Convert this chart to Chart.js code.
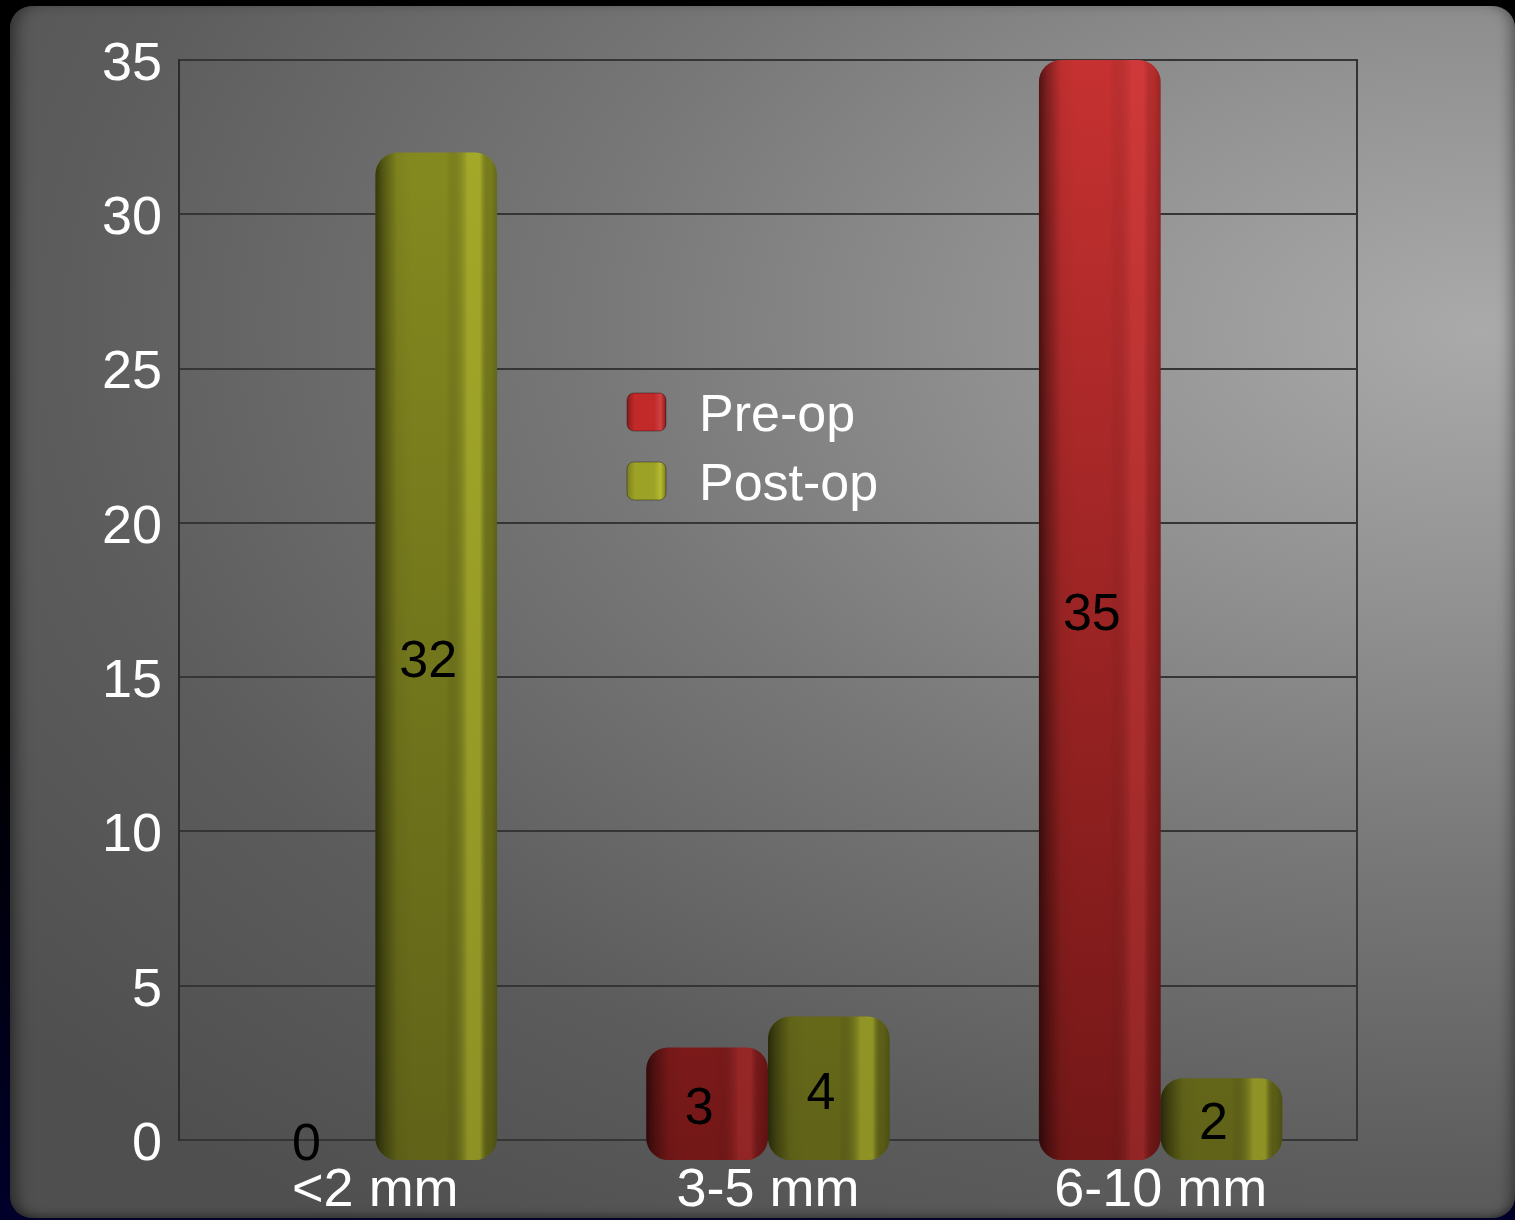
<!DOCTYPE html>
<html>
<head>
<meta charset="utf-8">
<title>Pre-op / Post-op</title>
<script src="https://cdn.jsdelivr.net/npm/chart.js@4.4.1/dist/chart.umd.min.js"></script>
<style>
  html, body { margin: 0; padding: 0; width: 1515px; height: 1220px; overflow: hidden;
    background: linear-gradient(180deg, #000 0%, #000 60%, #00002a 100%); }
  #panel { position: absolute; left: 10px; top: 6px; width: 1505px; height: 1212px; border-radius: 22px;
    background: radial-gradient(ellipse 1500px 900px at 1470px 324px,
      #aaaaaa 0%, #929292 30%, #777777 60%, #5c5c5c 95%, #4f4f4f 125%);
    box-shadow: inset 14px 0 16px -8px rgba(0,0,0,0.45),
                inset -12px 0 14px -8px rgba(0,0,0,0.4),
                inset 0 -8px 10px -6px rgba(0,0,0,0.3); }
  #chart { position: absolute; left: 0; top: 0; }
</style>
</head>
<body>
<div id="panel"></div>
<canvas id="chart" width="1515" height="1220"></canvas>
<script>
// ---- data ----
const categories = ['<2 mm', '3-5 mm', '6-10 mm'];
const seriesNames = ['Pre-op', 'Post-op'];
const preOp = [0, 3, 35];
const postOp = [32, 4, 2];
const yTickValues = [0, 5, 10, 15, 20, 25, 30, 35];

// ---- styles ----
const FONT = '"Liberation Sans", Arial, sans-serif';
const palette = [
  { top: '#c63131', bottom: '#731717', shine: 'rgba(235,80,80,0.25)', legend: ['#c22a2a', '#8c1a1a', '#d04040'] },
  { top: '#888d20', bottom: '#606318', shine: 'rgba(205,210,55,0.42)', legend: ['#9ca226', '#7c801d', '#b6bb30'] }
];
const BAR_RADIUS = 22;

function verticalFill(di) {
  return (ctx) => {
    const chart = ctx.chart;
    const area = chart.chartArea;
    if (ctx.raw === 0) return 'rgba(0,0,0,0)';
    if (!area) return palette[di].top;
    const g = chart.ctx.createLinearGradient(0, area.top, 0, area.bottom + 20);
    g.addColorStop(0, palette[di].top);
    g.addColorStop(1, palette[di].bottom);
    return g;
  };
}

// cylinder-like shading across each bar
const barShade = {
  id: 'barShade',
  afterDatasetsDraw(chart) {
    const c = chart.ctx;
    chart.data.datasets.forEach((ds, di) => {
      const meta = chart.getDatasetMeta(di);
      if (meta.hidden) return;
      meta.data.forEach((bar, i) => {
        if (!ds.data[i]) return;
        const { x, y, base, width } = bar.getProps(['x', 'y', 'base', 'width'], true);
        const left = x - width / 2;
        const top = Math.min(y, base);
        const h = Math.abs(base - y);
        const g = c.createLinearGradient(left, 0, left + width, 0);
        g.addColorStop(0, 'rgba(0,0,0,0.6)');
        g.addColorStop(0.06, 'rgba(0,0,0,0.38)');
        g.addColorStop(0.18, 'rgba(0,0,0,0.05)');
        g.addColorStop(0.3, 'rgba(0,0,0,0)');
        g.addColorStop(0.58, 'rgba(0,0,0,0)');
        g.addColorStop(0.76, palette[di].shine);
        g.addColorStop(0.86, palette[di].shine);
        g.addColorStop(0.94, 'rgba(0,0,0,0.08)');
        g.addColorStop(1, 'rgba(0,0,0,0.22)');
        c.save();
        c.beginPath();
        c.roundRect(left, top, width, h, BAR_RADIUS);
        c.fillStyle = g;
        c.fill();
        c.restore();
      });
    });
  }
};

// value printed on each bar
const valueLabels = {
  id: 'valueLabels',
  afterDatasetsDraw(chart) {
    const c = chart.ctx;
    const zero = chart.scales.y.getPixelForValue(0);
    c.save();
    c.font = '52px ' + FONT;
    c.fillStyle = '#000';
    c.textAlign = 'center';
    c.textBaseline = 'middle';
    chart.data.datasets.forEach((ds, di) => {
      const meta = chart.getDatasetMeta(di);
      meta.data.forEach((bar, i) => {
        const v = ds.data[i];
        const { x, y } = bar.getProps(['x', 'y'], true);
        const ty = v === 0 ? zero + 6 : (y + zero) / 2 + 16;
        c.fillText(String(v), x - 8, ty);
      });
    });
    c.restore();
  }
};

// right edge of the plot frame
const frame = {
  id: 'frame',
  beforeDatasetsDraw(chart) {
    const { right, top, bottom } = chart.chartArea;
    const c = chart.ctx;
    c.save();
    c.strokeStyle = '#333333';
    c.lineWidth = 2;
    c.beginPath();
    c.moveTo(right, top - 1);
    c.lineTo(right, bottom + 1);
    c.stroke();
    c.restore();
  }
};

// legend placed inside the plot
const innerLegend = {
  id: 'innerLegend',
  afterDraw(chart) {
    const c = chart.ctx;
    const x0 = 627, y0 = 393, rowGap = 69, bw = 39, bh = 38;
    c.save();
    chart.data.datasets.forEach((ds, di) => {
      const y = y0 + di * rowGap;
      const col = palette[di].legend;
      const g = c.createLinearGradient(x0, 0, x0 + bw, 0);
      g.addColorStop(0, col[1]);
      g.addColorStop(0.2, col[0]);
      g.addColorStop(0.7, col[0]);
      g.addColorStop(0.86, col[2]);
      g.addColorStop(1, col[1]);
      c.beginPath();
      c.roundRect(x0, y, bw, bh, 7);
      c.fillStyle = g;
      c.fill();
      c.strokeStyle = 'rgba(0,0,0,0.35)';
      c.lineWidth = 1;
      c.stroke();
      c.font = '52px ' + FONT;
      c.fillStyle = '#ffffff';
      c.textAlign = 'left';
      c.textBaseline = 'middle';
      c.fillText(ds.label, 699, y + bh / 2 + 5);
    });
    c.restore();
  }
};

new Chart(document.getElementById('chart'), {
  type: 'bar',
  data: {
    labels: categories,
    datasets: [
      { label: seriesNames[0], data: preOp, backgroundColor: verticalFill(0) },
      { label: seriesNames[1], data: postOp, backgroundColor: verticalFill(1) }
    ]
  },
  options: {
    responsive: false,
    animation: false,
    devicePixelRatio: 1,
    layout: { padding: { left: 0, top: 60, right: 158, bottom: 0 } },
    datasets: {
      bar: {
        categoryPercentage: 0.62,
        barPercentage: 1.0,
        borderRadius: BAR_RADIUS,
        borderSkipped: false,
        base: -0.65,
        clip: false
      }
    },
    plugins: {
      legend: { display: false },
      tooltip: { enabled: false }
    },
    scales: {
      x: {
        grid: { display: false, drawTicks: false },
        border: { display: false },
        ticks: { color: '#ffffff', font: { family: FONT, size: 54 }, padding: 19 },
        afterFit(scale) { scale.height = 80; }
      },
      y: {
        min: 0,
        max: 35,
        afterBuildTicks(scale) { scale.ticks = yTickValues.map(v => ({ value: v })); },
        grid: { color: '#353535', lineWidth: 2, drawTicks: false },
        border: { color: '#2a2a2a', width: 2 },
        ticks: { color: '#ffffff', font: { family: FONT, size: 54 }, padding: 17, labelOffset: 5 },
        afterFit(scale) { scale.width = 179; }
      }
    }
  },
  plugins: [frame, barShade, valueLabels, innerLegend]
});
</script>
</body>
</html>
